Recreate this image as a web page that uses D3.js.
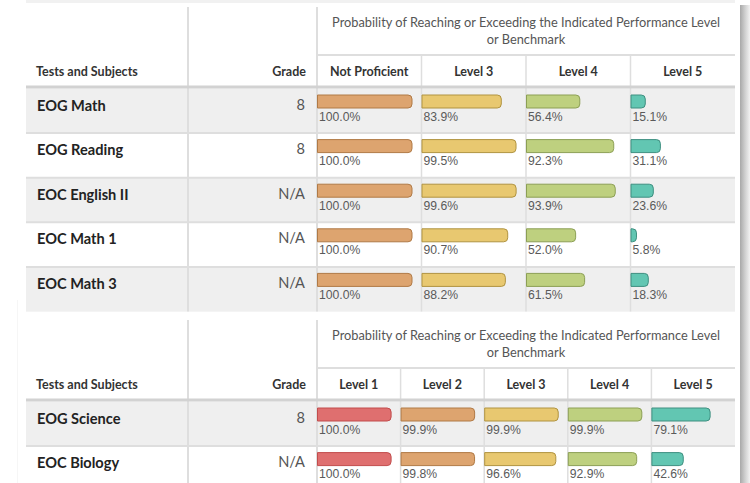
<!DOCTYPE html>
<html>
<head>
<meta charset="utf-8">
<script src="https://cdn.jsdelivr.net/npm/d3@7"></script>
<style>
  html, body { margin: 0; padding: 0; background: #ffffff; }
  svg { display: block; }
</style>
</head>
<body>
<svg id="chart" width="750" height="483"></svg>
<script>
// ---------- DATA ----------
const superHeader = ["Probability of Reaching or Exceeding the Indicated Performance Level", "or Benchmark"];
const colTestsLabel = "Tests and Subjects";
const colGradeLabel = "Grade";

const t1Subjects = ["EOG Math", "EOG Reading", "EOC English II", "EOC Math 1", "EOC Math 3"];
const t1Grades = ["8", "8", "N/A", "N/A", "N/A"];
const t1Levels = ["Not Proficient", "Level 3", "Level 4", "Level 5"];
const t1NotProficient = [100.0, 100.0, 100.0, 100.0, 100.0];
const t1Level3 = [83.9, 99.5, 99.6, 90.7, 88.2];
const t1Level4 = [56.4, 92.3, 93.9, 52.0, 61.5];
const t1Level5 = [15.1, 31.1, 23.6, 5.8, 18.3];

const t2Subjects = ["EOG Science", "EOC Biology"];
const t2Grades = ["8", "N/A"];
const t2Levels = ["Level 1", "Level 2", "Level 3", "Level 4", "Level 5"];
const t2Level1 = [100.0, 100.0];
const t2Level2 = [99.9, 99.8];
const t2Level3 = [99.9, 96.6];
const t2Level4 = [99.9, 92.9];
const t2Level5 = [79.1, 42.6];

// ---------- STYLE ----------
const palette = {
  red:    { fill: "#df6f6f", stroke: "#c24d4d" },
  orange: { fill: "#dda46f", stroke: "#b07a46" },
  yellow: { fill: "#e8c870", stroke: "#b09340" },
  green:  { fill: "#bed07f", stroke: "#8c9f55" },
  teal:   { fill: "#62c6b2", stroke: "#3e8f80" }
};
const t1Colors = [palette.orange, palette.yellow, palette.green, palette.teal];
const t2Colors = [palette.red, palette.orange, palette.yellow, palette.green, palette.teal];

const svg = d3.select("#chart");
const labelFont = "Lato, 'Open Sans', sans-serif";
const numFont = "'Liberation Sans', Arial, sans-serif";
const lineColor = "#dedede";

// card + shadow
const defs = svg.append("defs");
const g1 = defs.append("linearGradient").attr("id", "shadowR").attr("x1", 0).attr("x2", 1).attr("y1", 0).attr("y2", 0);
g1.append("stop").attr("offset", 0).attr("stop-color", "#a8a8a8");
g1.append("stop").attr("offset", 0.5).attr("stop-color", "#cfcfcf");
g1.append("stop").attr("offset", 1).attr("stop-color", "#f2f2f2");
svg.append("rect").attr("x", 740).attr("y", 5).attr("width", 10).attr("height", 478).attr("fill", "url(#shadowR)");
svg.append("rect").attr("x", 26).attr("y", 0).attr("width", 709).attr("height", 3).attr("fill", "#f1f1f1");
svg.append("line").attr("x1", 17.5).attr("x2", 17.5).attr("y1", 300).attr("y2", 483).attr("stroke", "#f6f6f6");

function barPath(x, y, w, h, r) {
  r = Math.min(r, w, h / 2);
  return `M${x},${y}H${x + w - r}A${r},${r} 0 0 1 ${x + w},${y + r}V${y + h - r}A${r},${r} 0 0 1 ${x + w - r},${y + h}H${x}Z`;
}

function drawTable(cfg) {
  const { top, subjects, grades, levels, series, colors } = cfg;
  const left = 26, right = 735, gradeRight = 188, levelLeft = 317;
  const headTop = top, superLine = top + 48, headBottom = top + 80;
  const rowH = 44.6;

  const g = svg.append("g");
  const xCols = d3.scaleBand().domain(levels).range([levelLeft, right]).padding(0);
  const y = d3.scaleBand().domain(subjects).range([headBottom + 1.5, headBottom + 1.5 + rowH * subjects.length]).padding(0);
  const barW = d3.scaleLinear().domain([0, 100]).range([0, xCols.bandwidth() - 10]);

  // row backgrounds
  g.selectAll("rect.rowbg").data(subjects).join("rect")
    .attr("x", left).attr("y", d => y(d)).attr("width", right - left).attr("height", y.bandwidth())
    .attr("fill", (d, i) => i % 2 === 0 ? "#efefef" : "#ffffff");

  // row separators
  g.selectAll("line.rowsep").data(subjects.slice(1)).join("line")
    .attr("x1", left).attr("x2", right).attr("y1", d => y(d)).attr("y2", d => y(d))
    .attr("stroke", lineColor).attr("stroke-width", 2);
  const yEnd = y.range()[1];
  g.append("line").attr("x1", left).attr("x2", right).attr("y1", yEnd).attr("y2", yEnd)
    .attr("stroke", "#f4f4f4").attr("stroke-width", 1);

  // vertical separators
  const vx = [gradeRight, levelLeft];
  g.selectAll("line.v").data(vx).join("line")
    .attr("x1", d => d).attr("x2", d => d).attr("y1", headTop).attr("y2", yEnd)
    .attr("stroke", lineColor).attr("stroke-width", 2);
  g.selectAll("line.vl").data(levels.slice(1)).join("line")
    .attr("x1", d => xCols(d)).attr("x2", d => xCols(d)).attr("y1", superLine).attr("y2", yEnd)
    .attr("stroke", lineColor).attr("stroke-width", 1.5);

  // super header line
  g.append("line").attr("x1", levelLeft).attr("x2", right).attr("y1", superLine).attr("y2", superLine)
    .attr("stroke", lineColor).attr("stroke-width", 2);
  // header bottom thick line
  g.append("rect").attr("x", left).attr("y", headBottom - 1.5).attr("width", right - left).attr("height", 3)
    .attr("fill", "#d2d2d2");

  // super header text
  const cx = (levelLeft + right) / 2;
  g.selectAll("text.super").data(superHeader).join("text")
    .attr("x", cx).attr("y", (d, i) => top + 19.5 + i * 17.5)
    .attr("text-anchor", "middle").attr("font-family", labelFont).attr("font-size", 12.8)
    .attr("fill", "#555").text(d => d);

  // column headers
  const hy = top + 68.5;
  g.append("text").attr("x", 36).attr("y", hy).attr("font-family", labelFont).attr("font-size", 12.5)
    .attr("font-weight", 700).attr("fill", "#333").text(colTestsLabel);
  g.append("text").attr("x", 306).attr("y", hy).attr("text-anchor", "end").attr("font-family", labelFont)
    .attr("font-size", 12.5).attr("font-weight", 700).attr("fill", "#333").text(colGradeLabel);
  g.selectAll("text.lvl").data(levels).join("text")
    .attr("x", d => xCols(d) + xCols.bandwidth() / 2).attr("y", hy)
    .attr("text-anchor", "middle").attr("font-family", labelFont).attr("font-size", 12.5)
    .attr("font-weight", 700).attr("fill", "#333").text(d => d);

  // row labels
  g.selectAll("text.subj").data(subjects).join("text")
    .attr("x", 37).attr("y", d => y(d) + 22)
    .attr("font-family", labelFont).attr("font-size", 14.6).attr("font-weight", 700)
    .attr("fill", "#222").text(d => d);
  g.selectAll("text.grade").data(grades).join("text")
    .attr("x", 305).attr("y", (d, i) => y(subjects[i]) + 21)
    .attr("text-anchor", "end").attr("font-family", labelFont).attr("font-size", 14.6)
    .attr("fill", "#555").text(d => d);

  // bars
  levels.forEach((lvl, li) => {
    const vals = series[li];
    const c = colors[li];
    const x0 = xCols(lvl);
    g.selectAll(null).data(vals).join("path")
      .attr("d", (v, i) => barPath(x0 + 0.5, y(subjects[i]) + 6.5, barW(v), 13, 4))
      .attr("fill", c.fill).attr("stroke", c.stroke).attr("stroke-width", 1);
    g.selectAll(null).data(vals).join("text")
      .attr("x", x0 + 2).attr("y", (v, i) => y(subjects[i]) + 32)
      .attr("font-family", numFont).attr("font-size", 12.2).attr("fill", "#5a5a5a")
      .text(v => d3.format(".1f")(v) + "%");
  });
}

drawTable({
  top: 7,
  subjects: t1Subjects, grades: t1Grades, levels: t1Levels,
  series: [t1NotProficient, t1Level3, t1Level4, t1Level5], colors: t1Colors
});
drawTable({
  top: 320,
  subjects: t2Subjects, grades: t2Grades, levels: t2Levels,
  series: [t2Level1, t2Level2, t2Level3, t2Level4, t2Level5], colors: t2Colors
});
</script>
</body>
</html>
